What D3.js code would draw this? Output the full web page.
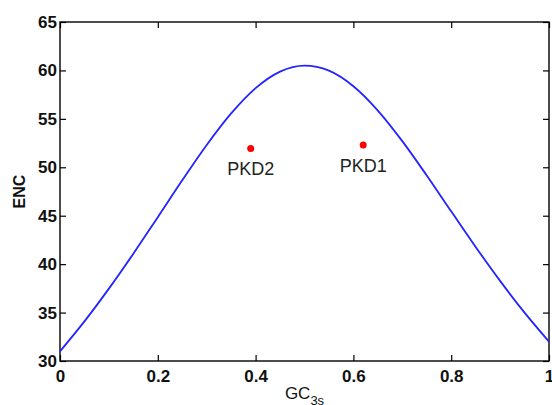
<!DOCTYPE html>
<html>
<head>
<meta charset="utf-8">
<script src="https://cdn.jsdelivr.net/npm/d3@7"></script>
<style>
  body { margin: 0; background: #fff; }
  svg { display: block; font-family: "Liberation Sans", Arial, sans-serif; }
</style>
</head>
<body>
<script>
// GC3s values along the expected ENC curve and ENC
var gc3s = [0, 0.05, 0.1, 0.15, 0.2, 0.25, 0.3, 0.35, 0.4, 0.45, 0.5,
            0.55, 0.6, 0.65, 0.7, 0.75, 0.8, 0.85, 0.9, 0.95, 1];
var enc  = [31.0, 34.09, 37.47, 41.08, 44.85, 48.65, 52.3, 55.56, 58.17, 59.88, 60.5,
            59.98, 58.37, 55.86, 52.7, 49.15, 45.45, 41.78, 38.27, 34.99, 32.0];

// genes
var geneNames = ["PKD2", "PKD1"];
var geneGC    = [0.39, 0.62];
var geneENC   = [51.95, 52.3];

var xTicks = [0, 0.2, 0.4, 0.6, 0.8, 1];
var yTicks = [30, 35, 40, 45, 50, 55, 60, 65];

var width = 552, height = 405;
var plotL = 60, plotR = 549, plotT = 22, plotB = 361;

var svg = d3.select("body").append("svg")
    .attr("width", width)
    .attr("height", height);

var x = d3.scaleLinear().domain([0, 1]).range([plotL, plotR]);
var y = d3.scaleLinear().domain([30, 65]).range([plotB, plotT]);

// axes with inward ticks, mirrored on top and right
var fmtX = function(d) { return d === 0 || d === 1 ? String(d) : d.toFixed(1); };

var xAxis = svg.append("g")
    .attr("transform", "translate(0," + plotB + ")")
    .call(d3.axisBottom(x).tickValues(xTicks).tickSizeInner(-6).tickSizeOuter(0).tickPadding(9).tickFormat(fmtX));
var yAxis = svg.append("g")
    .attr("transform", "translate(" + plotL + ",0)")
    .call(d3.axisLeft(y).tickValues(yTicks).tickSizeInner(-6).tickSizeOuter(0).tickPadding(3));
var xTop = svg.append("g")
    .attr("transform", "translate(0," + plotT + ")")
    .call(d3.axisTop(x).tickValues(xTicks).tickSizeInner(-6).tickSizeOuter(0).tickFormat(""));
var yRight = svg.append("g")
    .attr("transform", "translate(" + plotR + ",0)")
    .call(d3.axisRight(y).tickValues(yTicks).tickSizeInner(-6).tickSizeOuter(0).tickFormat(""));

[xAxis, yAxis, xTop, yRight].forEach(function(g) {
  g.select(".domain").remove();
  g.selectAll(".tick line").attr("stroke", "#000").attr("stroke-width", 1.2);
  g.selectAll("text")
    .attr("fill", "#111")
    .style("font-size", "17px")
    .style("font-weight", "bold")
    .style("font-family", "'Liberation Sans', Arial, sans-serif");
});

// frame
svg.append("rect")
    .attr("x", plotL).attr("y", plotT)
    .attr("width", plotR - plotL).attr("height", plotB - plotT)
    .attr("fill", "none")
    .attr("stroke", "#000")
    .attr("stroke-width", 1.4);

// expected ENC curve
var line = d3.line()
    .x(function(d, i) { return x(gc3s[i]); })
    .y(function(d) { return y(d); })
    .curve(d3.curveMonotoneX);

svg.append("path")
    .datum(enc)
    .attr("d", line)
    .attr("fill", "none")
    .attr("stroke", "#2323ff")
    .attr("stroke-width", 1.8);

// gene points and labels
svg.selectAll("circle.gene")
    .data(geneNames)
    .enter().append("circle")
    .attr("class", "gene")
    .attr("cx", function(d, i) { return x(geneGC[i]); })
    .attr("cy", function(d, i) { return y(geneENC[i]); })
    .attr("r", 3.5)
    .attr("fill", "#ff0000");

svg.selectAll("text.gene")
    .data(geneNames)
    .enter().append("text")
    .attr("class", "gene")
    .attr("x", function(d, i) { return x(geneGC[i]); })
    .attr("y", function(d, i) { return y(geneENC[i]) + 27; })
    .attr("text-anchor", "middle")
    .style("font-size", "18px")
    .attr("fill", "#222")
    .text(function(d) { return d; });

// axis titles
svg.append("text")
    .attr("transform", "translate(25," + (plotT + plotB) / 2 + ") rotate(-90)")
    .attr("text-anchor", "middle")
    .style("font-size", "16px")
    .style("font-weight", "bold")
    .attr("fill", "#111")
    .text("ENC");

var xt = svg.append("text")
    .attr("x", (plotL + plotR) / 2)
    .attr("y", 399)
    .attr("text-anchor", "middle")
    .style("font-size", "17px")
    .attr("fill", "#111");
xt.append("tspan").text("GC");
xt.append("tspan").attr("dy", 6).style("font-size", "13px").text("3s");
</script>
</body>
</html>
